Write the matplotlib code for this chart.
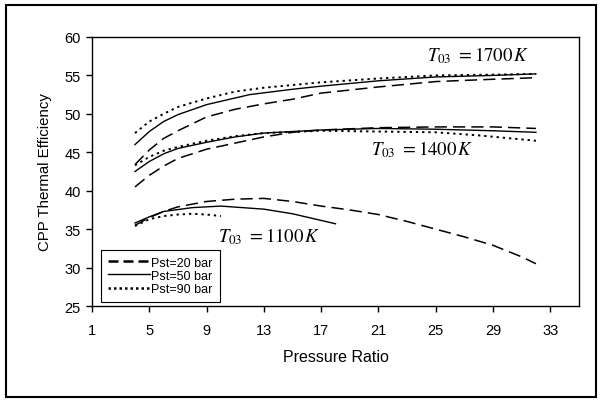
import matplotlib
matplotlib.use("Agg")
import matplotlib.pyplot as plt
from matplotlib.lines import Line2D
from matplotlib.patches import Rectangle

plt.rcParams['font.family'] = ['Liberation Sans', 'DejaVu Sans']
plt.rcParams['mathtext.fontset'] = 'stix'

# Pressure ratio vs. CPP thermal efficiency (%) for three turbine inlet temperatures
x_1700_p20 = [4, 5, 6, 7, 9, 11, 13, 15, 17, 21, 25, 29, 32]
y_1700_p20 = [43.4, 45.3, 46.8, 47.8, 49.6, 50.6, 51.3, 51.9, 52.7, 53.5, 54.2, 54.5, 54.7]
x_1700_p50 = [4, 5, 6, 7, 9, 12, 15, 17, 21, 25, 29, 32]
y_1700_p50 = [46.0, 47.7, 49.0, 49.9, 51.2, 52.5, 53.2, 53.6, 54.3, 54.8, 55.0, 55.2]
x_1700_p90 = [4, 5, 6, 7, 9, 11, 13, 17, 21, 25, 29, 32]
y_1700_p90 = [47.5, 49.0, 50.0, 50.9, 52.0, 52.9, 53.4, 54.1, 54.6, 55.0, 55.1, 55.2]

x_1400_p20 = [4, 5, 6, 7, 9, 11, 13, 15, 17, 21, 25, 29, 32]
y_1400_p20 = [40.5, 42.0, 43.2, 44.2, 45.4, 46.2, 47.0, 47.6, 47.9, 48.2, 48.3, 48.3, 48.1]
x_1400_p50 = [4, 5, 6, 7, 9, 11, 13, 17, 21, 25, 29, 32]
y_1400_p50 = [42.5, 43.8, 44.8, 45.5, 46.3, 47.0, 47.5, 47.9, 48.1, 48.0, 47.8, 47.6]
x_1400_p90 = [4, 5, 6, 7, 9, 11, 13, 17, 21, 25, 28, 32]
y_1400_p90 = [43.3, 44.4, 45.2, 45.7, 46.5, 47.1, 47.5, 47.8, 47.7, 47.6, 47.2, 46.5]

x_1100_p20 = [4, 5, 6, 7, 9, 11, 13, 15, 17, 19, 21, 23, 25, 27, 29, 31, 32]
y_1100_p20 = [35.5, 36.5, 37.3, 37.9, 38.6, 38.9, 39.0, 38.6, 38.0, 37.5, 36.9, 36.0, 35.0, 34.0, 32.9, 31.4, 30.5]
x_1100_p50 = [4, 5, 6, 8, 10, 13, 15, 18]
y_1100_p50 = [35.8, 36.6, 37.3, 37.8, 38.0, 37.6, 37.0, 35.7]
x_1100_p90 = [4, 5, 6, 7, 8, 9, 10]
y_1100_p90 = [35.4, 36.3, 36.7, 36.9, 37.0, 36.9, 36.7]

x_ticks = [1, 5, 9, 13, 17, 21, 25, 29, 33]
y_ticks = [25, 30, 35, 40, 45, 50, 55, 60]
legend_labels = ['Pst=20 bar', 'Pst=50 bar', 'Pst=90 bar']

fig = plt.figure(figsize=(6.03, 4.02), dpi=100)
ax = fig.add_axes([0.1526, 0.2363, 0.8074, 0.6692])

dashed = dict(color='black', lw=1.1, linestyle=(0, (8, 4)))
solid = dict(color='black', lw=1.0, linestyle='-')
dotted = dict(color='black', lw=1.4, linestyle=(0, (1.2, 2.0)))

for xs, ys, st in [
    (x_1700_p20, y_1700_p20, dashed), (x_1700_p50, y_1700_p50, solid), (x_1700_p90, y_1700_p90, dotted),
    (x_1400_p20, y_1400_p20, dashed), (x_1400_p50, y_1400_p50, solid), (x_1400_p90, y_1400_p90, dotted),
    (x_1100_p20, y_1100_p20, dashed), (x_1100_p50, y_1100_p50, solid), (x_1100_p90, y_1100_p90, dotted),
]:
    ax.plot(xs, ys, **st)

ax.set_xlim(1, 35)
ax.set_ylim(25, 60)
ax.set_xticks(x_ticks)
ax.set_yticks(y_ticks)
ax.tick_params(direction='out', length=4, width=1, labelsize=10.5, colors='black')
ax.tick_params(axis='x', pad=8)
ax.tick_params(axis='y', pad=4)
for sp in ax.spines.values():
    sp.set_linewidth(1.0)
    sp.set_color('black')

ax.set_xlabel('Pressure Ratio', fontsize=11.5, labelpad=9)
ax.set_ylabel('CPP Thermal Efficiency', fontsize=10.8, labelpad=9)

label_kw = dict(fontsize=13.5, ha='left', va='center', color='black')
ax.text(24.4, 57.7, r'$T_{03}\ {=}1700\,K$', **label_kw)
ax.text(20.5, 45.5, r'$T_{03}\ {=}1400\,K$', **label_kw)
ax.text(9.8, 34.1, r'$T_{03}\ {=}1100\,K$', **label_kw)

handles = [
    Line2D([], [], color='black', lw=1.8, linestyle=(0, (4, 2))),
    Line2D([], [], color='black', lw=1.0, linestyle='-'),
    Line2D([], [], color='black', lw=1.8, linestyle=(0, (1, 1.2))),
]
leg = ax.legend(handles, legend_labels, loc='lower left', bbox_to_anchor=(0.018, 0.015),
                fontsize=9, frameon=True, fancybox=False, framealpha=1,
                edgecolor='black', handlelength=3.4, handletextpad=0.1,
                labelspacing=0.1, borderpad=0.55, borderaxespad=0)
leg.get_frame().set_linewidth(0.8)

fig.patches.append(Rectangle((6 / 603, 4 / 402), 590 / 603, 392 / 402,
                             transform=fig.transFigure, fill=False,
                             edgecolor='black', lw=1.5))

fig.savefig('out.png', dpi=100, facecolor='white')
